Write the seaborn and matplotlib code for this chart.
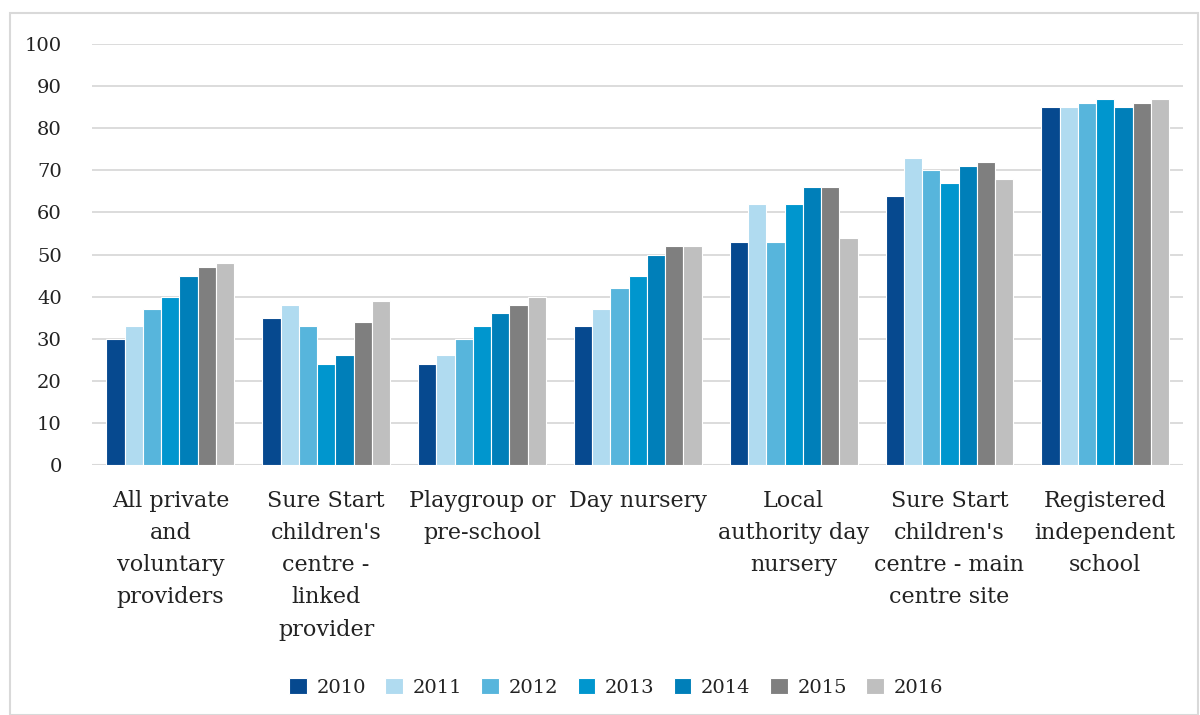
import matplotlib
matplotlib.use("Agg")
import matplotlib.pyplot as plt
import seaborn as sns
import pandas as pd
from matplotlib.patches import Rectangle

categories = [
    "All private\nand\nvoluntary\nproviders",
    "Sure Start\nchildren's\ncentre -\nlinked\nprovider",
    "Playgroup or\npre-school",
    "Day nursery",
    "Local\nauthority day\nnursery",
    "Sure Start\nchildren's\ncentre - main\ncentre site",
    "Registered\nindependent\nschool",
]
years = ["2010", "2011", "2012", "2013", "2014", "2015", "2016"]
values_2010 = [30, 35, 24, 33, 53, 64, 85]
values_2011 = [33, 38, 26, 37, 62, 73, 85]
values_2012 = [37, 33, 30, 42, 53, 70, 86]
values_2013 = [40, 24, 33, 45, 62, 67, 87]
values_2014 = [45, 26, 36, 50, 66, 71, 85]
values_2015 = [47, 34, 38, 52, 66, 72, 86]
values_2016 = [48, 39, 40, 52, 54, 68, 87]
series = [values_2010, values_2011, values_2012, values_2013,
          values_2014, values_2015, values_2016]
colors = ["#06498f", "#b0dbf0", "#57b5dc", "#0096ce", "#007fb9", "#7f7f7f", "#bfbfbf"]

rows = []
for y, vals in zip(years, series):
    for c, v in zip(categories, vals):
        rows.append({"category": c, "year": y, "value": v})
df = pd.DataFrame(rows)

sns.set_theme(style="white")
plt.rcParams["font.family"] = ["DejaVu Serif"]

fig = plt.figure(figsize=(12, 7.15), dpi=100)
ax = fig.add_axes([0.077, 0.35, 0.909, 0.588])

sns.barplot(data=df, x="category", y="value", hue="year", order=categories,
            hue_order=years, palette=colors, width=0.82, edgecolor="white",
            linewidth=0.8, ax=ax, saturation=1)

ax.set_ylim(0, 100)
ax.set_yticks(range(0, 101, 10))
ax.yaxis.grid(True, color="#d9d9d9", linewidth=1.3)
ax.set_axisbelow(True)
for s in ax.spines.values():
    s.set_visible(False)
ax.axhline(0, color="#d9d9d9", linewidth=1.5, zorder=0.5)
ax.set_xlabel("")
ax.set_ylabel("")
ax.tick_params(axis="y", labelsize=14, colors="#222222", pad=22, length=0)
ax.tick_params(axis="x", labelsize=16, colors="#222222", pad=18, length=0)
for lab in ax.get_xticklabels():
    lab.set_verticalalignment("top")
    lab.set_linespacing(1.6)

leg = ax.legend(loc="upper center", bbox_to_anchor=(0.48, -0.466), ncol=7,
                frameon=False, fontsize=14, handlelength=0.9, handleheight=0.9,
                columnspacing=1.0, handletextpad=0.5)
for t in leg.get_texts():
    t.set_color("#222222")

fig.patches.append(Rectangle((0.008, 0.0), 0.99, 0.982, transform=fig.transFigure,
                             fill=False, edgecolor="#d9d9d9", linewidth=1.5))

fig.savefig("out.png", dpi=100, facecolor="white")
